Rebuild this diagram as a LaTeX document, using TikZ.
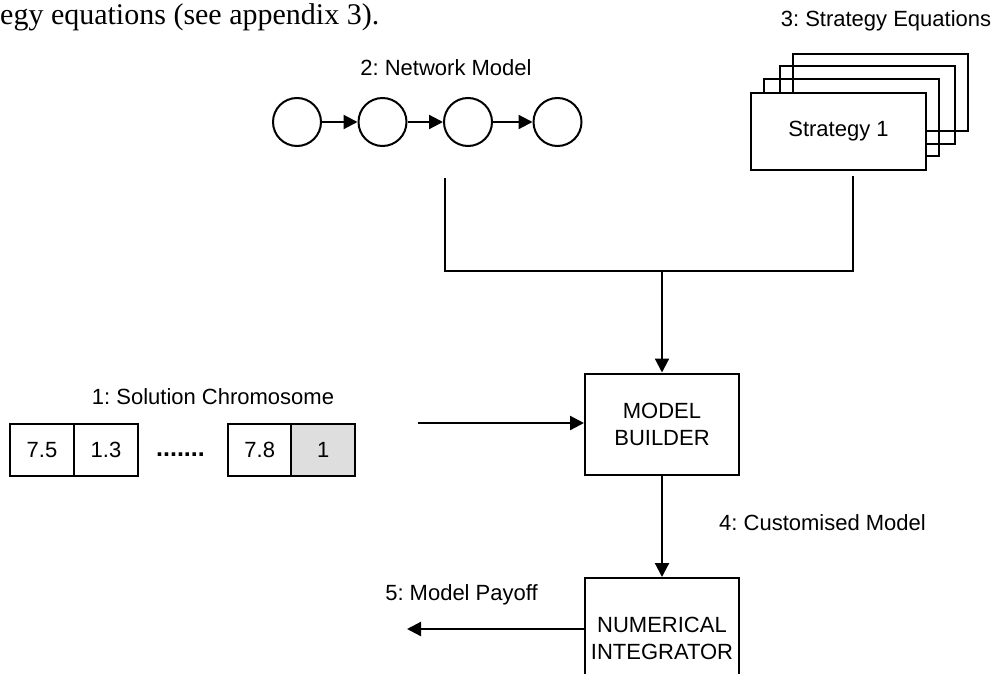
\documentclass[tikz,border=0pt]{standalone}
\usepackage{fontspec}
\setmainfont{Liberation Sans}
\newfontfamily\serifa{Liberation Serif}
\usetikzlibrary{arrows.meta}
\frenchspacing
\begin{document}
\begin{tikzpicture}[x=1pt,y=-1pt,
  lbl/.style={font=\fontsize{22}{27}\selectfont, inner sep=0pt},
  boxa/.style={draw, line width=2pt, inner sep=0pt, font=\fontsize{22}{27}\selectfont, align=center},
  circ/.style={draw, circle, line width=2pt, minimum size=48pt, inner sep=0pt},
  gene/.style={boxa, minimum width=64pt, minimum height=52pt},
  stratbox/.style={draw, line width=2pt, minimum width=175pt, minimum height=77pt, inner sep=0pt},
  arr/.style={line width=2.2pt, -{Triangle[length=14pt,width=14pt]}},
  conn/.style={line width=2pt}]
\useasboundingbox (0,0) rectangle (995,674);
\clip (0,0) rectangle (995,674);
% top text
\node[anchor=base west, inner sep=0pt, font=\serifa\fontsize{30}{36}\selectfont] (toptext) at (0,25) {egy equations (see appendix 3).};
% network model
\node[lbl] (netlbl) at (446,68) {2: Network Model};
\node[circ] (c1) at (297,122) {};
\node[circ] (c2) at (382.5,122) {};
\node[circ] (c3) at (468,122) {};
\node[circ] (c4) at (557.5,122) {};
\draw[arr] (c1) -- (c2);
\draw[arr] (c2) -- (c3);
\draw[arr] (c3) -- (c4);
% strategy stack
\node[lbl] (stratlbl) at (886,21) {3: Strategy Equations};
\node[stratbox] (s4) at (880,92.5) {};
\node[stratbox] (s3) at (867.5,105) {};
\node[stratbox] (s2) at (851,117.5) {};
\node[stratbox, fill=white, font=\fontsize{22}{27}\selectfont] (s1) at (838.5,131.5) {Strategy 1};
% merge connector
\coordinate (jl) at (445,178);
\coordinate (jr) at (853,176);
\coordinate (jm) at (662,271);
\draw[conn] (jl) -- (jl |- jm) -- (jr |- jm) -- (jr);
% model builder
\node[boxa, minimum width=154pt, minimum height=101pt] (builder) at (662,424) {MODEL\\BUILDER};
\draw[arr] (jm) -- (builder.north);
% chromosome
\node[lbl] (chromlbl) at (213,397) {1: Solution Chromosome};
\node[gene] (g1) at (42,450) {7.5};
\node[gene] (g2) at (106,450) {1.3};
\node[inner sep=0pt, anchor=base, font=\bfseries\fontsize{25}{27}\selectfont] (dots) at (180.5,456) {.......};
\node[gene] (g3) at (259.7,450) {7.8};
\node[gene, fill=black!13] (g4) at (323.3,450) {1};
\coordinate (cs) at (418,423);
\draw[arr] (cs) -- (cs -| builder.west);
% numerical integrator
\node[boxa, minimum width=154pt, minimum height=120pt, anchor=north] (integ) at (662,577) {NUMERICAL\\INTEGRATOR};
\draw[arr] (builder.south) -- (integ.north);
\node[lbl, anchor=west] (custlbl) at (719,523) {4: Customised Model};
% payoff
\node[lbl] (paylbl) at (461.5,595) {5: Model Payoff};
\coordinate (po) at (407,629);
\draw[arr] (integ.west |- po) -- (po);
\end{tikzpicture}
\end{document}
